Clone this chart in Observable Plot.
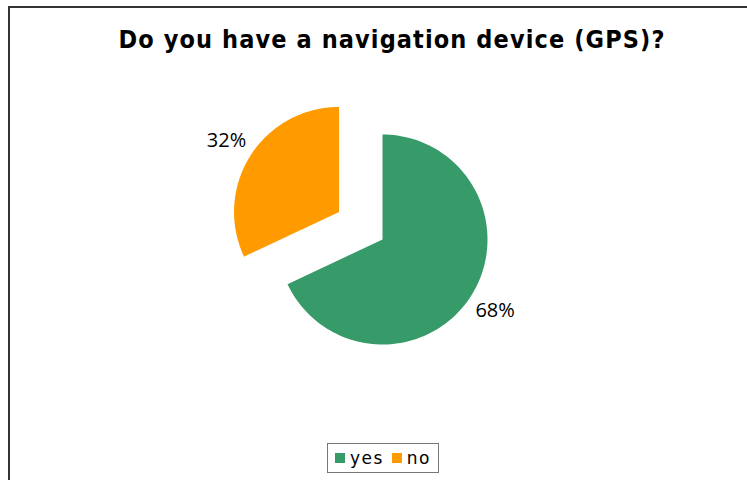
<!DOCTYPE html>
<html><head><meta charset="utf-8">
<script src="https://cdn.jsdelivr.net/npm/d3@7"></script>
<script src="https://cdn.jsdelivr.net/npm/@observablehq/plot@0.6"></script>
<style>
html,body{margin:0;padding:0;background:#fff;}
body{width:747px;height:480px;overflow:hidden;position:relative;font-family:"DejaVu Sans",sans-serif;}
#frame{position:absolute;left:8px;top:6px;width:800px;height:600px;border:2px solid #333;box-sizing:border-box;}
#title{position:absolute;left:0;top:25px;width:784px;text-align:center;font-family:"DejaVu Sans Condensed","DejaVu Sans",sans-serif;font-weight:bold;font-size:25px;letter-spacing:1.1px;color:#000;}
#chart{position:absolute;left:0;top:70px;}
#legend{position:absolute;left:327px;top:443px;width:112px;height:30px;border:1px solid #777;box-sizing:border-box;display:flex;align-items:center;justify-content:center;gap:8px;font-family:"DejaVu Sans",sans-serif;font-size:17px;letter-spacing:1.5px;color:#000;}
#legend .item{display:flex;align-items:center;gap:5px;}
#legend .sw{width:10px;height:10px;display:inline-block;}
</style>
</head><body>
<div id="frame"></div>
<div id="title">Do you have a navigation device (GPS)?</div>
<div id="chart"></div>
<div id="legend"></div>
<script>
const categories = ["yes", "no"];
const values = [68, 32];
const colors = ["#369b69", "#ff9a00"];
const labels = ["68%", "32%"];
const explode = [0, 0.49];

const rows = categories.map((c, i) => ({category: c, value: values[i]}));
const arcs = d3.pie().sort(null).value(d => d.value)(rows);

const slicePts = [];
const labelPts = [];
arcs.forEach((a, i) => {
  const c = a.data.category;
  const mid = (a.startAngle + a.endAngle) / 2;
  const ox = explode[i] * Math.sin(mid), oy = explode[i] * Math.cos(mid);
  slicePts.push({category: c, x: ox, y: oy});
  const n = 120;
  for (let k = 0; k <= n; k++) {
    const t = a.startAngle + (a.endAngle - a.startAngle) * k / n;
    slicePts.push({category: c, x: ox + Math.sin(t), y: oy + Math.cos(t)});
  }
  const lr = 1.27;
  labelPts.push({category: c, label: labels[i], x: ox + lr * Math.sin(mid), y: oy + lr * Math.cos(mid)});
});

const W = 747, H = 360, cx = 382, cy = 169, R = 105;
const chart = Plot.plot({
  width: W, height: H,
  margin: 0,
  x: {domain: [-1, 1], range: [cx - R, cx + R], axis: null},
  y: {domain: [-1, 1], range: [cy + R, cy - R], axis: null},
  color: {domain: categories, range: colors},
  marks: [
    Plot.line(slicePts, {x: "x", y: "y", z: "category", fill: "category", stroke: "none", curve: "linear-closed"}),
    Plot.text(labelPts, {x: "x", y: "y", text: "label", fontSize: 20, fontFamily: "Open Sans", fill: "#000"})
  ],
  style: {background: "transparent", overflow: "visible"}
});
document.getElementById("chart").appendChild(chart);

const leg = document.getElementById("legend");
categories.forEach((c, i) => {
  const it = document.createElement("span");
  it.className = "item";
  const sw = document.createElement("span");
  sw.className = "sw";
  sw.style.background = colors[i];
  const tx = document.createElement("span");
  tx.textContent = c;
  it.appendChild(sw); it.appendChild(tx);
  leg.appendChild(it);
});
</script>
</body></html>
